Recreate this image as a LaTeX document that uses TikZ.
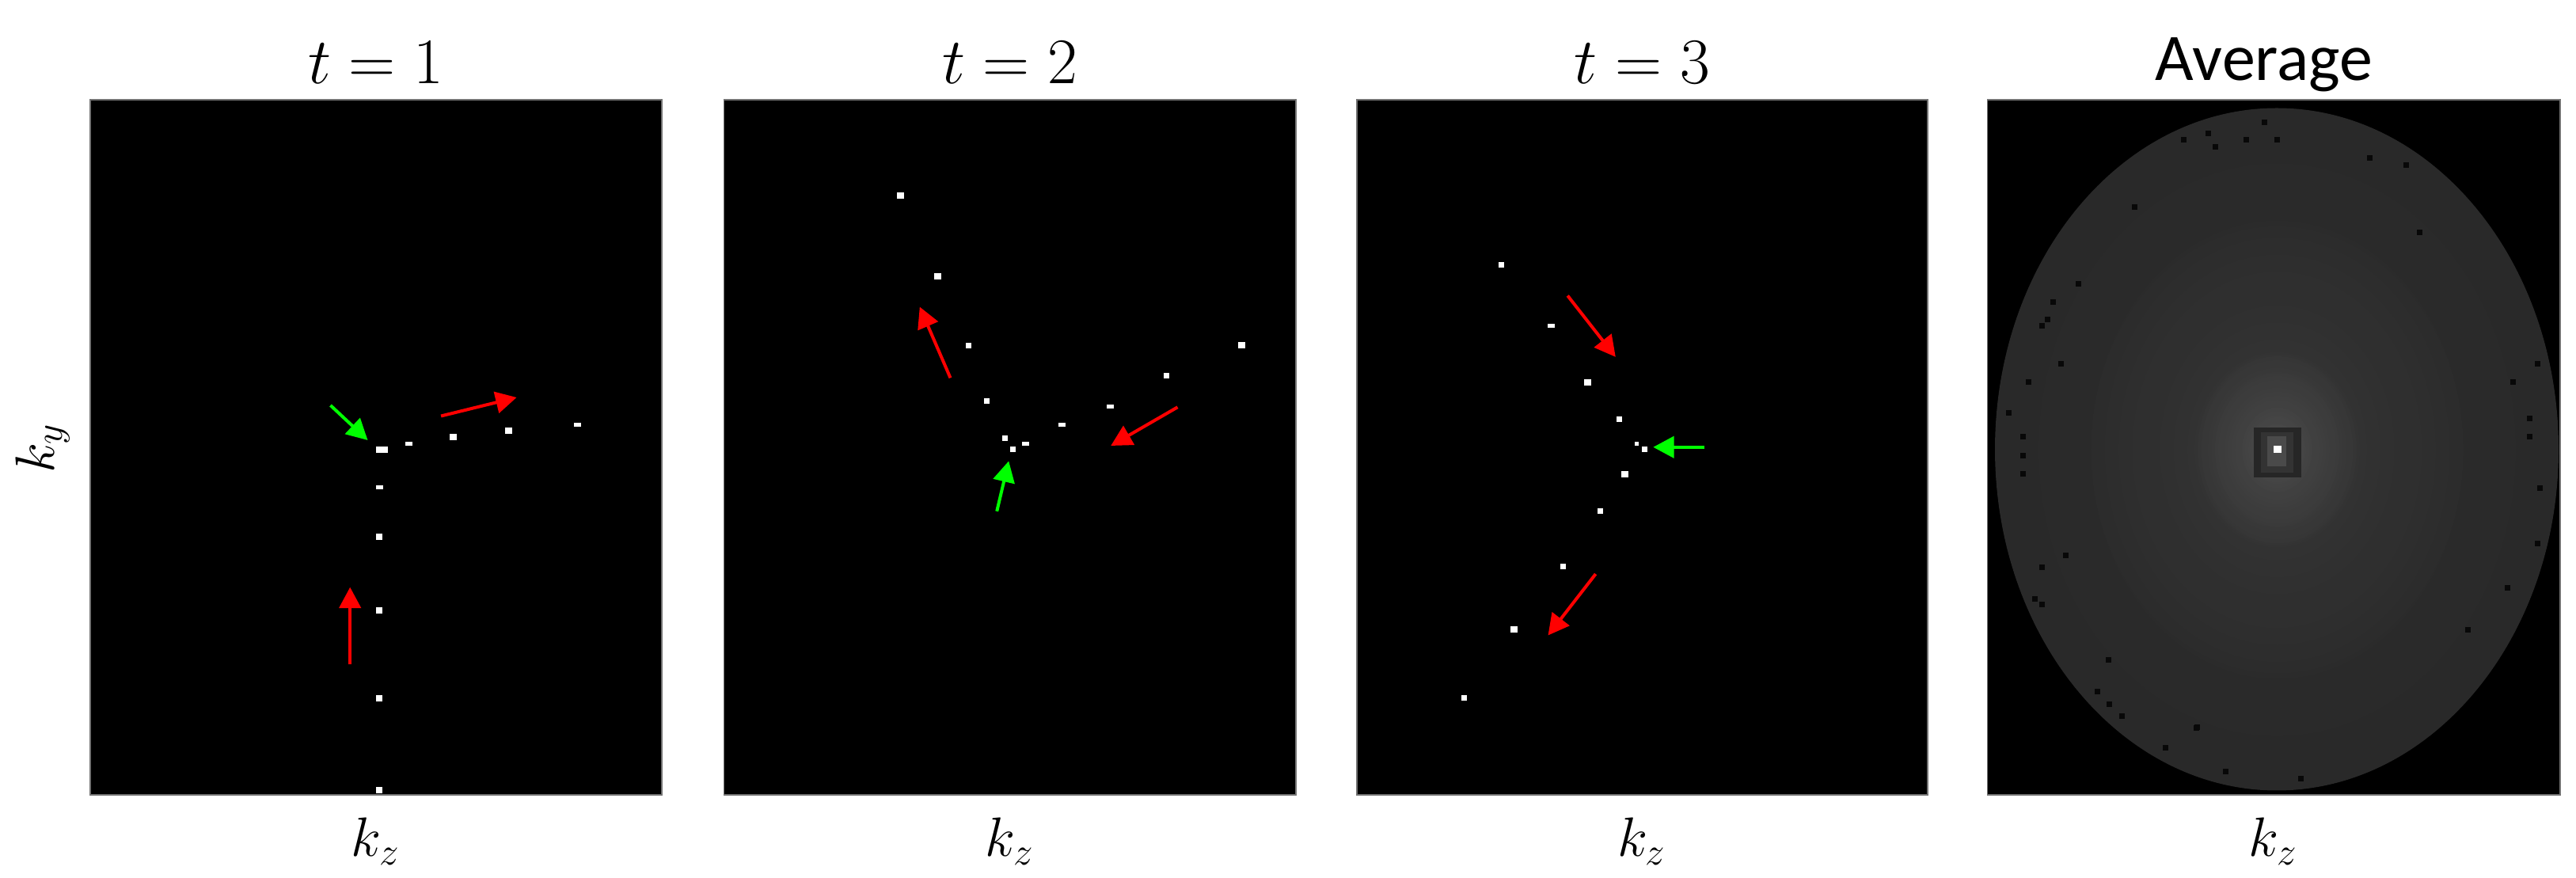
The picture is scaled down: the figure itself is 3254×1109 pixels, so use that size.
\RequirePackage{fix-cm}
\documentclass[tikz,border=0pt]{standalone}
\usepackage{fontspec}
\newfontfamily\avgfont{Carlito}
\usetikzlibrary{arrows.meta,fadings}
\definecolor{diskc}{gray}{0.15}
\definecolor{arrred}{rgb}{1,0,0}
\definecolor{arrgreen}{rgb}{0,1,0}
\tikzfading[name=glowfade, inner color=transparent!0, outer color=transparent!100]
\tikzset{
  panel/.style={fill=black,draw=black!55,line width=0.45pt},
  redarr/.style={draw=arrred,line width=1pt,-{Triangle[length=6.6pt,width=6.8pt]}},
  greenarr/.style={draw=arrgreen,line width=1pt,-{Triangle[length=6.6pt,width=6.8pt]}},
  title/.style={anchor=base,inner sep=0pt,font=\fontsize{20.5}{24}\selectfont},
  axlab/.style={anchor=base,inner sep=0pt,font=\fontsize{17.5}{21}\selectfont},
  speck/.style={fill=black!97}
}
\newcommand{\pdot}[4]{\fill[white] ({#1-#3/2},{#2-#4/2}) rectangle ++(#3,#4);}
\newcommand{\spk}[2]{\fill[speck] ({#1-3.5},{#2-3.5}) rectangle ++(7,7);}
\begin{document}
\begin{tikzpicture}[x=0.25pt,y=-0.25pt]
\useasboundingbox (0,0) rectangle (3254,1109);
% ---------- panels ----------
\path[panel] (113.6,126) rectangle (835.8,1004) node[pos=0,coordinate](p1){};
\path[panel] (914.5,126) rectangle (1636.8,1004) node[pos=0,coordinate](p2){};
\path[panel] (1713.6,126) rectangle (2434.8,1004) node[pos=0,coordinate](p3){};
\path[panel] (2510.5,126) rectangle (3233.7,1004) node[pos=0,coordinate](p4){};
% ---------- titles ----------
\node[title] (t1) at (474.7,106) {$t=1$};
\node[title] (t2) at (1275.7,106) {$t=2$};
\node[title] (t3) at (2074.2,106) {$t=3$};
\node[anchor=base,inner sep=0pt,font=\avgfont\fontsize{21}{25}\selectfont] (t4) at (2860,101.7) {Average};
% ---------- axis labels ----------
\node[axlab] (kz1) at (474.7,1081.7) {$k_z$};
\node[axlab] (kz2) at (1275.7,1081.7) {$k_z$};
\node[axlab] (kz3) at (2074.2,1081.7) {$k_z$};
\node[axlab] (kz4) at (2872,1081.7) {$k_z$};
\node[axlab,rotate=90] (ky) at (68,566) {$k_y$};
% ---------- panel 1 dots ----------
\pdot{482.5}{567.7}{15}{8}
\pdot{516.9}{560.1}{9}{5}
\pdot{572.1}{552.5}{9}{8}
\pdot{642.4}{544.2}{9}{8}
\pdot{729.2}{536.6}{9}{5}
\pdot{479.1}{615.8}{9}{5}
\pdot{479.1}{678.1}{8}{8}
\pdot{479.1}{771.4}{8}{8}
\pdot{479.1}{881.7}{8}{8}
\pdot{479.1}{998.5}{8}{8}
% panel 1 arrows
\draw[greenarr] (417.5,512.0) -- (464.5,556.0);
\draw[redarr] (557.1,525.5) -- (652.6,502.0);
\draw[redarr] (442.2,839.4) -- (442.2,741.7);
% ---------- panel 2 dots ----------
\pdot{1137.5}{246.7}{9}{8}
\pdot{1184.5}{348.8}{9}{8}
\pdot{1223.8}{436.3}{7}{7}
\pdot{1246.6}{506.1}{7}{7}
\pdot{1269.9}{553.1}{7}{7}
\pdot{1279.1}{567.7}{7}{7}
\pdot{1295.1}{560.1}{9}{5}
\pdot{1341.6}{536.6}{9}{5}
\pdot{1402.7}{513.7}{9}{5}
\pdot{1473.9}{474.4}{7}{7}
\pdot{1568.9}{436.3}{9}{8}
% panel 2 arrows
\draw[redarr] (1200.5,477.3) -- (1161.8,387.6);
\draw[redarr] (1487.5,514.3) -- (1403.2,563.0);
\draw[greenarr] (1259.2,645.8) -- (1274.2,582.4);
% ---------- panel 3 dots ----------
\pdot{1896.3}{334.2}{7}{7}
\pdot{1959.3}{411.6}{9}{5}
\pdot{2005.4}{483.2}{9}{8}
\pdot{2045.1}{529.6}{7}{7}
\pdot{2067.9}{560.1}{5}{5}
\pdot{2077.1}{567.7}{7}{7}
\pdot{2052.4}{599.4}{9}{8}
\pdot{2021.4}{645.8}{7}{7}
\pdot{1974.8}{715.6}{7}{7}
\pdot{1912.3}{794.8}{9}{8}
\pdot{1849.8}{881.7}{7}{7}
% panel 3 arrows
\draw[redarr] (1980.2,373.5) -- (2040.8,450.9);
\draw[redarr] (2015.6,725.0) -- (1955.5,802.5);
\draw[greenarr] (2153.2,564.8) -- (2088.3,564.8);
% ---------- panel 4: average ----------
\fill[diskc] (2876,567.5) ellipse [x radius=356, y radius=431];
\begin{scope}
\clip (2876,567.5) ellipse [x radius=356, y radius=431];
\fill[white, fill opacity=0.035, path fading=glowfade] (2876,567.7) ellipse [x radius=600, y radius=720];
\fill[white, fill opacity=0.06, path fading=glowfade] (2876,567.7) ellipse [x radius=260, y radius=320];
\fill[white, fill opacity=0.10, path fading=glowfade] (2876,567.7) ellipse [x radius=110, y radius=130];
\end{scope}
\spk{2876.5}{176.3}\spk{2837.0}{176.3}\spk{2798.0}{185.1}\spk{2758.0}{176.3}
\spk{2993.4}{199.8}\spk{3056.8}{293.7}\spk{3039.7}{208.6}\spk{2625.5}{358.2}
\spk{2593.8}{381.7}\spk{2603.1}{459.2}\spk{2562.1}{482.6}\spk{2537.8}{521.4}
\spk{2555.8}{551.9}\spk{2555.8}{575.4}\spk{2555.8}{598.8}\spk{3195.7}{528.4}
\spk{3195.7}{551.9}\spk{3205.4}{459.2}\spk{3174.7}{482.6}\spk{3208.8}{616.4}
\spk{3205.4}{686.9}\spk{3117.7}{795.4}\spk{2609.4}{701.5}\spk{2579.2}{716.2}
\spk{2663.0}{833.6}\spk{2775.1}{918.7}\spk{2811.6}{974.4}\spk{2906.7}{983.2}
\spk{2696.1}{261.4}\spk{3167.4}{742.6}
\spk{2860}{154.3}\spk{2789.3}{168.7}\spk{2586.7}{403.7}\spk{2579.3}{412}
\spk{2570.7}{756.7}\spk{2579.3}{764}\spk{2649.3}{873.3}\spk{2664}{889.3}
\spk{2680}{905}\spk{2774.3}{920}\spk{2735.7}{945}
\fill[gray!30!black] (2847,540) rectangle (2907,603);
\fill[gray!40!black] (2856,546) rectangle (2897,597);
\fill[gray!58!black] (2864,551) rectangle (2888,589);
\fill[white] (2876.7-5,567.8-4.5) rectangle ++(10,9);
\end{tikzpicture}
\end{document}
